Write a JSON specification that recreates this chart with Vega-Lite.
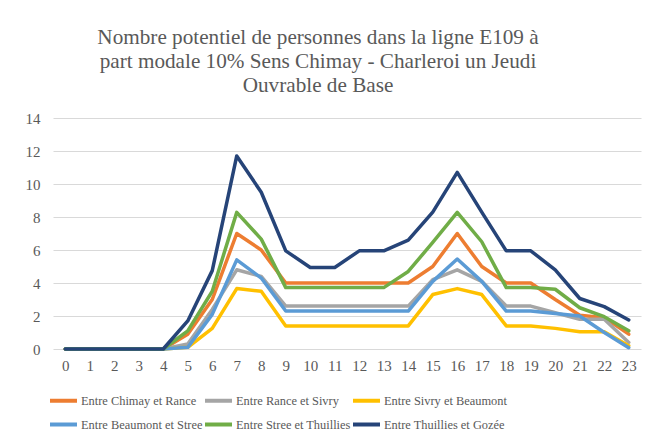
{
  "$schema": "https://vega.github.io/schema/vega-lite/v6.json",
  "autosize": "none",
  "width": 588,
  "height": 231,
  "padding": {"left": 53, "top": 118, "right": 14, "bottom": 92},
  "background": "white",
  "title": {
    "text": ["Nombre potentiel de personnes dans la ligne E109 à", "part modale 10% Sens Chimay - Charleroi un Jeudi", "Ouvrable  de Base"],
    "font": "Liberation Serif",
    "fontSize": 21.2,
    "fontWeight": "normal",
    "color": "#595959",
    "lineHeight": 24,
    "anchor": "middle",
    "dx": -29,
    "offset": 15
  },
  "data": {"values": [
    {"h":0,"s":"Entre Chimay et Rance","v":0},{"h":1,"s":"Entre Chimay et Rance","v":0},{"h":2,"s":"Entre Chimay et Rance","v":0},{"h":3,"s":"Entre Chimay et Rance","v":0},{"h":4,"s":"Entre Chimay et Rance","v":0},{"h":5,"s":"Entre Chimay et Rance","v":0.9},{"h":6,"s":"Entre Chimay et Rance","v":3.0},{"h":7,"s":"Entre Chimay et Rance","v":7.0},{"h":8,"s":"Entre Chimay et Rance","v":6.0},{"h":9,"s":"Entre Chimay et Rance","v":4.0},{"h":10,"s":"Entre Chimay et Rance","v":4.0},{"h":11,"s":"Entre Chimay et Rance","v":4.0},{"h":12,"s":"Entre Chimay et Rance","v":4.0},{"h":13,"s":"Entre Chimay et Rance","v":4.0},{"h":14,"s":"Entre Chimay et Rance","v":4.0},{"h":15,"s":"Entre Chimay et Rance","v":5.0},{"h":16,"s":"Entre Chimay et Rance","v":7.0},{"h":17,"s":"Entre Chimay et Rance","v":5.0},{"h":18,"s":"Entre Chimay et Rance","v":4.0},{"h":19,"s":"Entre Chimay et Rance","v":4.0},{"h":20,"s":"Entre Chimay et Rance","v":3.0},{"h":21,"s":"Entre Chimay et Rance","v":2.05},{"h":22,"s":"Entre Chimay et Rance","v":1.9},{"h":23,"s":"Entre Chimay et Rance","v":0.9},
    {"h":0,"s":"Entre Rance et Sivry","v":0},{"h":1,"s":"Entre Rance et Sivry","v":0},{"h":2,"s":"Entre Rance et Sivry","v":0},{"h":3,"s":"Entre Rance et Sivry","v":0},{"h":4,"s":"Entre Rance et Sivry","v":0},{"h":5,"s":"Entre Rance et Sivry","v":0.3},{"h":6,"s":"Entre Rance et Sivry","v":2.4},{"h":7,"s":"Entre Rance et Sivry","v":4.8},{"h":8,"s":"Entre Rance et Sivry","v":4.4},{"h":9,"s":"Entre Rance et Sivry","v":2.6},{"h":10,"s":"Entre Rance et Sivry","v":2.6},{"h":11,"s":"Entre Rance et Sivry","v":2.6},{"h":12,"s":"Entre Rance et Sivry","v":2.6},{"h":13,"s":"Entre Rance et Sivry","v":2.6},{"h":14,"s":"Entre Rance et Sivry","v":2.6},{"h":15,"s":"Entre Rance et Sivry","v":4.2},{"h":16,"s":"Entre Rance et Sivry","v":4.8},{"h":17,"s":"Entre Rance et Sivry","v":4.1},{"h":18,"s":"Entre Rance et Sivry","v":2.6},{"h":19,"s":"Entre Rance et Sivry","v":2.6},{"h":20,"s":"Entre Rance et Sivry","v":2.2},{"h":21,"s":"Entre Rance et Sivry","v":1.8},{"h":22,"s":"Entre Rance et Sivry","v":1.8},{"h":23,"s":"Entre Rance et Sivry","v":0.4},
    {"h":0,"s":"Entre Sivry et Beaumont","v":0},{"h":1,"s":"Entre Sivry et Beaumont","v":0},{"h":2,"s":"Entre Sivry et Beaumont","v":0},{"h":3,"s":"Entre Sivry et Beaumont","v":0},{"h":4,"s":"Entre Sivry et Beaumont","v":0},{"h":5,"s":"Entre Sivry et Beaumont","v":0.1},{"h":6,"s":"Entre Sivry et Beaumont","v":1.25},{"h":7,"s":"Entre Sivry et Beaumont","v":3.66},{"h":8,"s":"Entre Sivry et Beaumont","v":3.5},{"h":9,"s":"Entre Sivry et Beaumont","v":1.4},{"h":10,"s":"Entre Sivry et Beaumont","v":1.4},{"h":11,"s":"Entre Sivry et Beaumont","v":1.4},{"h":12,"s":"Entre Sivry et Beaumont","v":1.4},{"h":13,"s":"Entre Sivry et Beaumont","v":1.4},{"h":14,"s":"Entre Sivry et Beaumont","v":1.4},{"h":15,"s":"Entre Sivry et Beaumont","v":3.3},{"h":16,"s":"Entre Sivry et Beaumont","v":3.66},{"h":17,"s":"Entre Sivry et Beaumont","v":3.3},{"h":18,"s":"Entre Sivry et Beaumont","v":1.4},{"h":19,"s":"Entre Sivry et Beaumont","v":1.4},{"h":20,"s":"Entre Sivry et Beaumont","v":1.25},{"h":21,"s":"Entre Sivry et Beaumont","v":1.05},{"h":22,"s":"Entre Sivry et Beaumont","v":1.05},{"h":23,"s":"Entre Sivry et Beaumont","v":0.2},
    {"h":0,"s":"Entre Beaumont et Stree","v":0},{"h":1,"s":"Entre Beaumont et Stree","v":0},{"h":2,"s":"Entre Beaumont et Stree","v":0},{"h":3,"s":"Entre Beaumont et Stree","v":0},{"h":4,"s":"Entre Beaumont et Stree","v":0},{"h":5,"s":"Entre Beaumont et Stree","v":0.1},{"h":6,"s":"Entre Beaumont et Stree","v":2.1},{"h":7,"s":"Entre Beaumont et Stree","v":5.4},{"h":8,"s":"Entre Beaumont et Stree","v":4.3},{"h":9,"s":"Entre Beaumont et Stree","v":2.3},{"h":10,"s":"Entre Beaumont et Stree","v":2.3},{"h":11,"s":"Entre Beaumont et Stree","v":2.3},{"h":12,"s":"Entre Beaumont et Stree","v":2.3},{"h":13,"s":"Entre Beaumont et Stree","v":2.3},{"h":14,"s":"Entre Beaumont et Stree","v":2.3},{"h":15,"s":"Entre Beaumont et Stree","v":4.1},{"h":16,"s":"Entre Beaumont et Stree","v":5.45},{"h":17,"s":"Entre Beaumont et Stree","v":4.1},{"h":18,"s":"Entre Beaumont et Stree","v":2.3},{"h":19,"s":"Entre Beaumont et Stree","v":2.3},{"h":20,"s":"Entre Beaumont et Stree","v":2.15},{"h":21,"s":"Entre Beaumont et Stree","v":2.0},{"h":22,"s":"Entre Beaumont et Stree","v":1.0},{"h":23,"s":"Entre Beaumont et Stree","v":0.08},
    {"h":0,"s":"Entre Stree et Thuillies","v":0},{"h":1,"s":"Entre Stree et Thuillies","v":0},{"h":2,"s":"Entre Stree et Thuillies","v":0},{"h":3,"s":"Entre Stree et Thuillies","v":0},{"h":4,"s":"Entre Stree et Thuillies","v":0},{"h":5,"s":"Entre Stree et Thuillies","v":1.1},{"h":6,"s":"Entre Stree et Thuillies","v":3.5},{"h":7,"s":"Entre Stree et Thuillies","v":8.28},{"h":8,"s":"Entre Stree et Thuillies","v":6.66},{"h":9,"s":"Entre Stree et Thuillies","v":3.72},{"h":10,"s":"Entre Stree et Thuillies","v":3.72},{"h":11,"s":"Entre Stree et Thuillies","v":3.72},{"h":12,"s":"Entre Stree et Thuillies","v":3.72},{"h":13,"s":"Entre Stree et Thuillies","v":3.72},{"h":14,"s":"Entre Stree et Thuillies","v":4.7},{"h":15,"s":"Entre Stree et Thuillies","v":6.46},{"h":16,"s":"Entre Stree et Thuillies","v":8.28},{"h":17,"s":"Entre Stree et Thuillies","v":6.5},{"h":18,"s":"Entre Stree et Thuillies","v":3.72},{"h":19,"s":"Entre Stree et Thuillies","v":3.72},{"h":20,"s":"Entre Stree et Thuillies","v":3.62},{"h":21,"s":"Entre Stree et Thuillies","v":2.5},{"h":22,"s":"Entre Stree et Thuillies","v":1.96},{"h":23,"s":"Entre Stree et Thuillies","v":1.1},
    {"h":0,"s":"Entre Thuillies et Gozée","v":0},{"h":1,"s":"Entre Thuillies et Gozée","v":0},{"h":2,"s":"Entre Thuillies et Gozée","v":0},{"h":3,"s":"Entre Thuillies et Gozée","v":0},{"h":4,"s":"Entre Thuillies et Gozée","v":0},{"h":5,"s":"Entre Thuillies et Gozée","v":1.7},{"h":6,"s":"Entre Thuillies et Gozée","v":4.75},{"h":7,"s":"Entre Thuillies et Gozée","v":11.7},{"h":8,"s":"Entre Thuillies et Gozée","v":9.5},{"h":9,"s":"Entre Thuillies et Gozée","v":5.95},{"h":10,"s":"Entre Thuillies et Gozée","v":4.94},{"h":11,"s":"Entre Thuillies et Gozée","v":4.94},{"h":12,"s":"Entre Thuillies et Gozée","v":5.95},{"h":13,"s":"Entre Thuillies et Gozée","v":5.95},{"h":14,"s":"Entre Thuillies et Gozée","v":6.6},{"h":15,"s":"Entre Thuillies et Gozée","v":8.3},{"h":16,"s":"Entre Thuillies et Gozée","v":10.7},{"h":17,"s":"Entre Thuillies et Gozée","v":8.3},{"h":18,"s":"Entre Thuillies et Gozée","v":5.95},{"h":19,"s":"Entre Thuillies et Gozée","v":5.95},{"h":20,"s":"Entre Thuillies et Gozée","v":4.8},{"h":21,"s":"Entre Thuillies et Gozée","v":3.06},{"h":22,"s":"Entre Thuillies et Gozée","v":2.57},{"h":23,"s":"Entre Thuillies et Gozée","v":1.76}
  ]},
  "mark": {"type": "line", "strokeWidth": 3.5, "strokeJoin": "round", "strokeCap": "round"},
  "encoding": {
    "x": {
      "field": "h", "type": "ordinal", "sort": null,
      "scale": {"type": "point", "padding": 0.5},
      "axis": {"title": null, "labelAngle": 0, "domain": false, "ticks": false, "grid": false, "labelPadding": 9, "labelFont": "Liberation Serif", "labelFontSize": 15, "labelColor": "#595959"}
    },
    "y": {
      "field": "v", "type": "quantitative",
      "scale": {"domain": [0, 14], "nice": false, "zero": true},
      "axis": {"title": null, "values": [0, 2, 4, 6, 8, 10, 12, 14], "domain": false, "ticks": false, "grid": true, "gridColor": "#d9d9d9", "gridWidth": 1, "labelPadding": 13, "labelFont": "Liberation Serif", "labelFontSize": 15, "labelColor": "#595959"}
    },
    "color": {
      "field": "s", "type": "nominal",
      "scale": {
        "domain": ["Entre Chimay et Rance", "Entre Rance et Sivry", "Entre Sivry et Beaumont", "Entre Beaumont et Stree", "Entre Stree et Thuillies", "Entre Thuillies et Gozée"],
        "range": ["#ED7D31", "#A5A5A5", "#FFC000", "#5B9BD5", "#70AD47", "#264478"]
      },
      "legend": {
        "title": null,
        "orient": "none",
        "legendX": -5,
        "legendY": 267,
        "direction": "horizontal",
        "columns": 3,
        "symbolType": "stroke",
        "symbolSize": 729,
        "symbolStrokeWidth": 4,
        "labelFont": "Liberation Serif",
        "labelFontSize": 12.4,
        "labelColor": "#595959",
        "labelOffset": 2,
        "labelLimit": 300,
        "columnPadding": -14,
        "rowPadding": 0
      }
    }
  },
  "config": {"view": {"stroke": null}}
}
